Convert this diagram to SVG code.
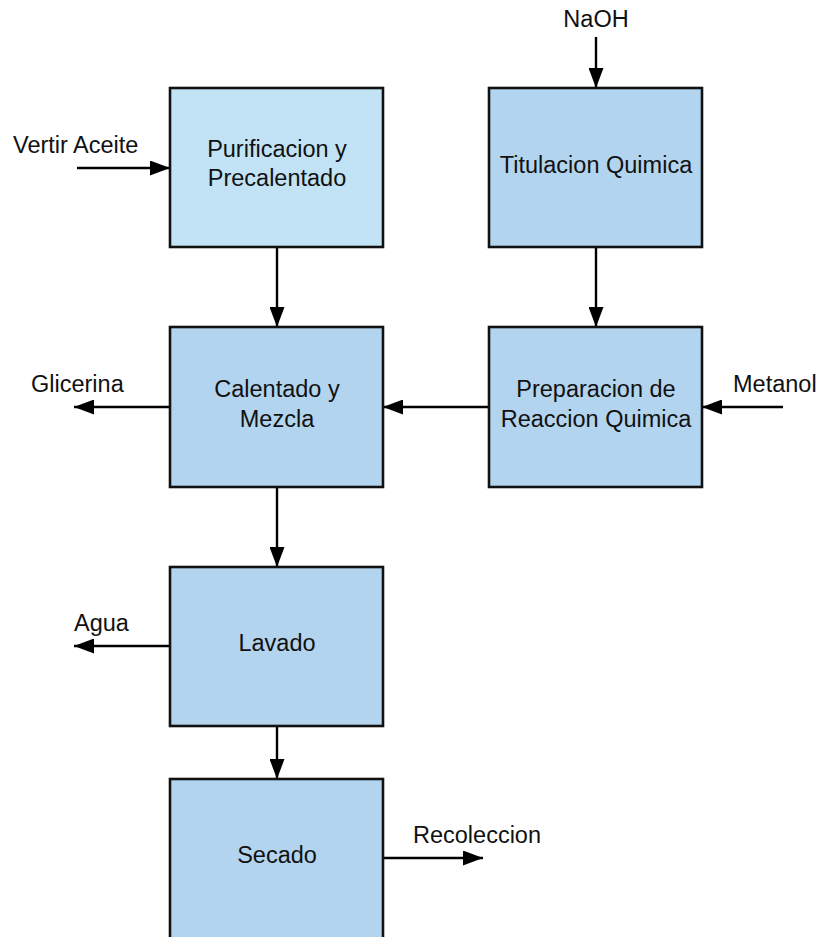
<svg xmlns="http://www.w3.org/2000/svg" width="819" height="937" viewBox="0 0 819 937">
<defs>
<style>
.box{fill:#b3d4ee;stroke:#111;stroke-width:2.6}
.light{fill:#c2e3f6}
.t{font-family:"Liberation Sans",Arial,sans-serif;font-size:23.5px;fill:#111;text-anchor:middle}
.l{font-family:"Liberation Sans",Arial,sans-serif;font-size:23.5px;fill:#111}
.c{stroke:#000;stroke-width:2.4;fill:none;marker-end:url(#ah)}
</style>
<marker id="ah" markerUnits="userSpaceOnUse" markerWidth="21" markerHeight="15" refX="20" refY="7.5" orient="auto">
<path d="M0,0 L20,7.5 L0,15 Z" fill="#000"/>
</marker>
</defs>
<rect width="819" height="937" fill="#fff"/>
<g id="connectors">
<line class="c" x1="596" y1="37" x2="596" y2="88"/>
<line class="c" x1="77" y1="168" x2="170" y2="168"/>
<line class="c" x1="277" y1="247" x2="277" y2="327"/>
<line class="c" x1="596" y1="247" x2="596" y2="327"/>
<line class="c" x1="489" y1="407" x2="383" y2="407"/>
<line class="c" x1="783" y1="407" x2="702" y2="407"/>
<line class="c" x1="170" y1="407" x2="74" y2="407"/>
<line class="c" x1="277" y1="487" x2="277" y2="567"/>
<line class="c" x1="170" y1="646" x2="74" y2="646"/>
<line class="c" x1="277" y1="726" x2="277" y2="779"/>
<line class="c" x1="384" y1="858" x2="483" y2="858"/>
</g>
<g id="n-purificacion">
<rect class="box light" x="170" y="88" width="213" height="159"/>
<text class="t" x="277" y="157">Purificacion y</text>
<text class="t" x="277" y="186">Precalentado</text>
</g>
<g id="n-titulacion">
<rect class="box" x="489" y="88" width="213" height="159"/>
<text class="t" x="596" y="173">Titulacion Quimica</text>
</g>
<g id="n-calentado">
<rect class="box" x="170" y="327" width="213" height="160"/>
<text class="t" x="277" y="397">Calentado y</text>
<text class="t" x="277" y="427">Mezcla</text>
</g>
<g id="n-preparacion">
<rect class="box" x="489" y="327" width="213" height="160"/>
<text class="t" x="596" y="397">Preparacion de</text>
<text class="t" x="596" y="427">Reaccion Quimica</text>
</g>
<g id="n-lavado">
<rect class="box" x="170" y="567" width="213" height="159"/>
<text class="t" x="277" y="651">Lavado</text>
</g>
<g id="n-secado">
<rect class="box" x="170" y="779" width="213" height="170"/>
<text class="t" x="277" y="863">Secado</text>
</g>
<g id="labels">
<text class="t" x="596" y="27">NaOH</text>
<text class="l" x="13" y="153">Vertir Aceite</text>
<text class="l" x="31" y="392">Glicerina</text>
<text class="l" x="733" y="392">Metanol</text>
<text class="l" x="74" y="631">Agua</text>
<text class="l" x="413" y="843">Recoleccion</text>
</g>
</svg>
